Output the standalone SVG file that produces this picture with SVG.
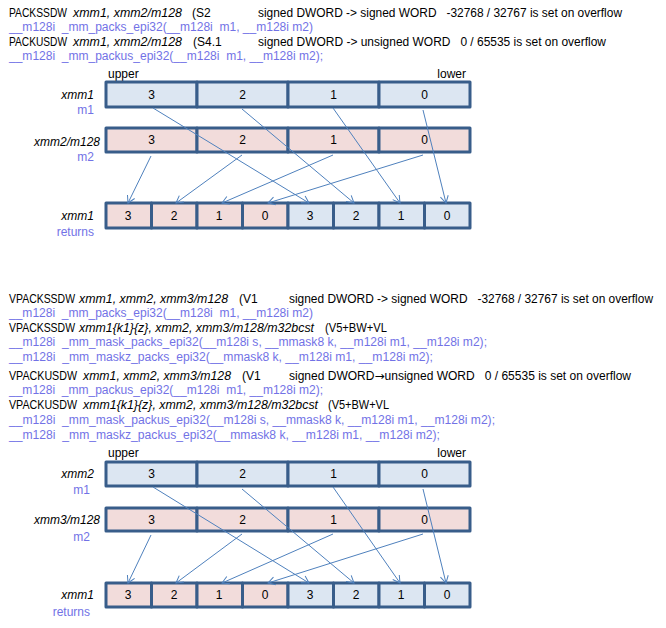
<svg xmlns="http://www.w3.org/2000/svg" width="666" height="628" viewBox="0 0 666 628">
<defs>
<style>
text{font-family:"Liberation Sans",Arial,sans-serif;font-size:12px;fill:#000;white-space:pre}
.i{font-style:italic}
.b{fill:#7272e6}
.n{text-anchor:middle}
.r{text-anchor:end}
.ar{font-family:"DejaVu Sans",sans-serif}
.c1{fill:#dce6f2;stroke:#385d8a;stroke-width:3;stroke-linejoin:round}
.c2{fill:#f2dcdb;stroke:#385d8a;stroke-width:3;stroke-linejoin:round}
.a{stroke:#4f81bd;stroke-width:1;fill:none;marker-end:url(#ah)}
</style>
<marker id="ah" viewBox="-8 -5 10 10" refX="0" refY="0" markerWidth="10" markerHeight="10" markerUnits="userSpaceOnUse" orient="auto">
<path d="M-7,-4 L0,0 L-7,4" fill="none" stroke="#4f81bd" stroke-width="1"/>
</marker>
</defs>
<rect width="666" height="628" fill="#fff"/>

<g id="header-top">
<text x="9" y="17" textLength="58" lengthAdjust="spacingAndGlyphs">PACKSSDW</text>
<text x="73" y="17" class="i" textLength="109" lengthAdjust="spacingAndGlyphs">xmm1, xmm2/m128</text>
<text x="192" y="17">(S2</text>
<text x="258" y="17" textLength="364" lengthAdjust="spacingAndGlyphs">signed DWORD -&gt; signed WORD   -32768 / 32767 is set on overflow</text>
<text x="9" y="31" class="b" textLength="304" lengthAdjust="spacingAndGlyphs">__m128i  _mm_packs_epi32(__m128i  m1, __m128i m2)</text>
<text x="9" y="46" textLength="58" lengthAdjust="spacingAndGlyphs">PACKUSDW</text>
<text x="73" y="46" class="i" textLength="109" lengthAdjust="spacingAndGlyphs">xmm1, xmm2/m128</text>
<text x="193" y="46">(S4.1</text>
<text x="258" y="46" textLength="348" lengthAdjust="spacingAndGlyphs">signed DWORD -&gt; unsigned WORD   0 / 65535 is set on overflow</text>
<text x="9" y="60" class="b" textLength="314" lengthAdjust="spacingAndGlyphs">__m128i  _mm_packus_epi32(__m128i  m1, __m128i m2);</text>
</g>

<g id="labels-top">
<text x="108" y="78">upper</text>
<text x="466" y="78" class="r">lower</text>
<text x="94" y="99" class="i r">xmm1</text>
<text x="94" y="114" class="b r">m1</text>
<text x="100" y="146" class="i r">xmm2/m128</text>
<text x="94" y="161" class="b r">m2</text>
<text x="94" y="220" class="i r">xmm1</text>
<text x="94" y="236" class="b r">returns</text>
</g>

<g id="top-xmm1">
<rect class="c1" x="106" y="82" width="91" height="25"/>
<rect class="c1" x="197" y="82" width="91" height="25"/>
<rect class="c1" x="288" y="82" width="91" height="25"/>
<rect class="c1" x="379" y="82" width="91" height="25"/>
<text class="n" x="151.5" y="99">3</text>
<text class="n" x="242.5" y="99">2</text>
<text class="n" x="333.5" y="99">1</text>
<text class="n" x="424.5" y="99">0</text>
</g>
<g id="top-xmm2">
<rect class="c2" x="106" y="128" width="91" height="24"/>
<rect class="c2" x="197" y="128" width="91" height="24"/>
<rect class="c2" x="288" y="128" width="91" height="24"/>
<rect class="c2" x="379" y="128" width="91" height="24"/>
<text class="n" x="151.5" y="144">3</text>
<text class="n" x="242.5" y="144">2</text>
<text class="n" x="333.5" y="144">1</text>
<text class="n" x="424.5" y="144">0</text>
</g>
<g id="top-result">
<rect class="c2" x="106" y="203" width="45.5" height="25"/>
<rect class="c2" x="151.5" y="203" width="45.5" height="25"/>
<rect class="c2" x="197" y="203" width="45.5" height="25"/>
<rect class="c2" x="242.5" y="203" width="45.5" height="25"/>
<rect class="c1" x="288" y="203" width="45.5" height="25"/>
<rect class="c1" x="333.5" y="203" width="45.5" height="25"/>
<rect class="c1" x="379" y="203" width="45.5" height="25"/>
<rect class="c1" x="424.5" y="203" width="45.5" height="25"/>
<text class="n" x="128" y="220">3</text>
<text class="n" x="174" y="220">2</text>
<text class="n" x="219" y="220">1</text>
<text class="n" x="265" y="220">0</text>
<text class="n" x="310" y="220">3</text>
<text class="n" x="356" y="220">2</text>
<text class="n" x="401" y="220">1</text>
<text class="n" x="447" y="220">0</text>
</g>
<g id="connectors-top">
<line class="a" x1="153" y1="108" x2="309" y2="203"/>
<line class="a" x1="242" y1="109" x2="354" y2="203"/>
<line class="a" x1="333" y1="108" x2="400" y2="203"/>
<line class="a" x1="423" y1="110" x2="446" y2="203"/>
<line class="a" x1="151" y1="156" x2="128" y2="203"/>
<line class="a" x1="242" y1="155" x2="176" y2="203"/>
<line class="a" x1="333" y1="155" x2="222" y2="203"/>
<line class="a" x1="423" y1="155" x2="268" y2="203"/>
</g>

<g id="header-bottom">
<text x="9" y="303" textLength="66" lengthAdjust="spacingAndGlyphs">VPACKSSDW</text>
<text x="79" y="303" class="i" textLength="149" lengthAdjust="spacingAndGlyphs">xmm1, xmm2, xmm3/m128</text>
<text x="239" y="303">(V1</text>
<text x="289" y="303" textLength="364" lengthAdjust="spacingAndGlyphs">signed DWORD -&gt; signed WORD   -32768 / 32767 is set on overflow</text>
<text x="9" y="317" class="b" textLength="304" lengthAdjust="spacingAndGlyphs">__m128i  _mm_packs_epi32(__m128i  m1, __m128i m2)</text>
<text x="9" y="332" textLength="66" lengthAdjust="spacingAndGlyphs">VPACKSSDW</text>
<text x="79" y="332" class="i" textLength="235" lengthAdjust="spacingAndGlyphs">xmm1{k1}{z}, xmm2, xmm3/m128/m32bcst</text>
<text x="325" y="332" textLength="62" lengthAdjust="spacingAndGlyphs">(V5+BW+VL</text>
<text x="9" y="346" class="b" textLength="478" lengthAdjust="spacingAndGlyphs">__m128i  _mm_mask_packs_epi32(__m128i s, __mmask8 k, __m128i m1, __m128i m2);</text>
<text x="9" y="361" class="b" textLength="424" lengthAdjust="spacingAndGlyphs">__m128i  _mm_maskz_packs_epi32(__mmask8 k, __m128i m1, __m128i m2);</text>
<text x="9" y="380" textLength="68" lengthAdjust="spacingAndGlyphs">VPACKUSDW</text>
<text x="83" y="380" class="i" textLength="148" lengthAdjust="spacingAndGlyphs">xmm1, xmm2, xmm3/m128</text>
<text x="242" y="380">(V1</text>
<text x="289" y="380" textLength="342" lengthAdjust="spacingAndGlyphs">signed DWORD<tspan class="ar">→</tspan>unsigned WORD   0 / 65535 is set on overflow</text>
<text x="9" y="394" class="b" textLength="314" lengthAdjust="spacingAndGlyphs">__m128i  _mm_packus_epi32(__m128i  m1, __m128i m2);</text>
<text x="9" y="409" textLength="68" lengthAdjust="spacingAndGlyphs">VPACKUSDW</text>
<text x="83" y="409" class="i" textLength="235" lengthAdjust="spacingAndGlyphs">xmm1{k1}{z}, xmm2, xmm3/m128/m32bcst</text>
<text x="328" y="409" textLength="61" lengthAdjust="spacingAndGlyphs">(V5+BW+VL</text>
<text x="9" y="424" class="b" textLength="486" lengthAdjust="spacingAndGlyphs">__m128i  _mm_mask_packus_epi32(__m128i s, __mmask8 k, __m128i m1, __m128i m2);</text>
<text x="9" y="439" class="b" textLength="431" lengthAdjust="spacingAndGlyphs">__m128i  _mm_maskz_packus_epi32(__mmask8 k, __m128i m1, __m128i m2);</text>
</g>

<g id="labels-bottom">
<text x="108" y="457">upper</text>
<text x="466" y="457" class="r">lower</text>
<text x="94" y="478" class="i r">xmm2</text>
<text x="90" y="494" class="b r">m1</text>
<text x="100" y="524" class="i r">xmm3/m128</text>
<text x="90" y="541" class="b r">m2</text>
<text x="94" y="599" class="i r">xmm1</text>
<text x="90" y="616" class="b r">returns</text>
</g>

<g id="bottom-xmm2">
<rect class="c1" x="106" y="462" width="91" height="24"/>
<rect class="c1" x="197" y="462" width="91" height="24"/>
<rect class="c1" x="288" y="462" width="91" height="24"/>
<rect class="c1" x="379" y="462" width="91" height="24"/>
<text class="n" x="151.5" y="478">3</text>
<text class="n" x="242.5" y="478">2</text>
<text class="n" x="333.5" y="478">1</text>
<text class="n" x="424.5" y="478">0</text>
</g>
<g id="bottom-xmm3">
<rect class="c2" x="106" y="508" width="91" height="23"/>
<rect class="c2" x="197" y="508" width="91" height="23"/>
<rect class="c2" x="288" y="508" width="91" height="23"/>
<rect class="c2" x="379" y="508" width="91" height="23"/>
<text class="n" x="151.5" y="524">3</text>
<text class="n" x="242.5" y="524">2</text>
<text class="n" x="333.5" y="524">1</text>
<text class="n" x="424.5" y="524">0</text>
</g>
<g id="bottom-result">
<rect class="c2" x="106" y="583" width="45.5" height="24"/>
<rect class="c2" x="151.5" y="583" width="45.5" height="24"/>
<rect class="c2" x="197" y="583" width="45.5" height="24"/>
<rect class="c2" x="242.5" y="583" width="45.5" height="24"/>
<rect class="c1" x="288" y="583" width="45.5" height="24"/>
<rect class="c1" x="333.5" y="583" width="45.5" height="24"/>
<rect class="c1" x="379" y="583" width="45.5" height="24"/>
<rect class="c1" x="424.5" y="583" width="45.5" height="24"/>
<text class="n" x="128" y="599">3</text>
<text class="n" x="174" y="599">2</text>
<text class="n" x="219" y="599">1</text>
<text class="n" x="265" y="599">0</text>
<text class="n" x="310" y="599">3</text>
<text class="n" x="356" y="599">2</text>
<text class="n" x="401" y="599">1</text>
<text class="n" x="447" y="599">0</text>
</g>
<g id="connectors-bottom">
<line class="a" x1="153" y1="487" x2="309" y2="583"/>
<line class="a" x1="242" y1="489" x2="354" y2="583"/>
<line class="a" x1="333" y1="487" x2="400" y2="583"/>
<line class="a" x1="423" y1="489" x2="446" y2="583"/>
<line class="a" x1="151" y1="535" x2="128" y2="583"/>
<line class="a" x1="242" y1="534" x2="176" y2="583"/>
<line class="a" x1="333" y1="534" x2="222" y2="583"/>
<line class="a" x1="423" y1="534" x2="268" y2="583"/>
</g>
</svg>
